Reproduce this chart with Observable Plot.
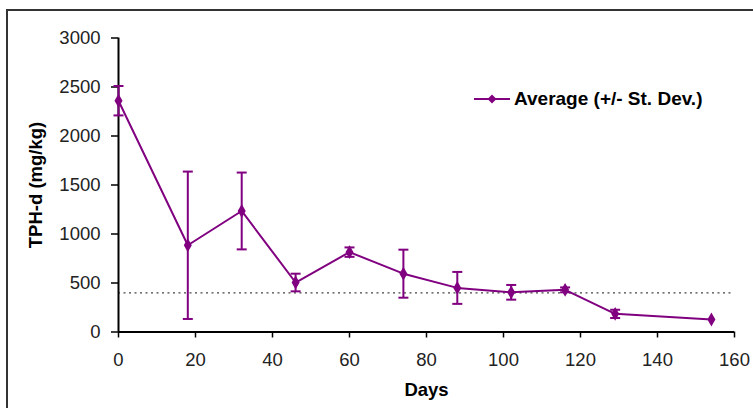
<!DOCTYPE html>
<html>
<head>
<meta charset="utf-8">
<script src="https://cdn.jsdelivr.net/npm/d3@7"></script>
<script src="https://cdn.jsdelivr.net/npm/@observablehq/plot@0.6"></script>
<style>
  html, body { margin: 0; padding: 0; background: #fff; }
  #wrap { position: relative; width: 753px; height: 408px; overflow: hidden; font-family: "Liberation Sans", Arial, sans-serif; }
  #frame { position: absolute; left: 6px; top: 9px; width: 800px; height: 500px; border-top: 2px solid #333; border-left: 2px solid #333; }
  #legend { position: absolute; left: 474px; top: 88px; display: flex; align-items: center; font-weight: bold; font-size: 19px; color: #000; white-space: nowrap; }
  #chart { position: absolute; left: 0; top: 0; }
</style>
</head>
<body>
<div id="wrap">
  <div id="frame"></div>
  <div id="chart"></div>
  <div id="legend"></div>
</div>
<script>
const days = [0, 18, 32, 46, 60, 74, 88, 102, 116, 129, 154];
const average = [2360, 885, 1235, 505, 815, 595, 450, 405, 430, 185, 128];
const stDev = [150, 752, 392, 90, 48, 245, 163, 75, 25, 42, 0];
const threshold = [400];
const xTicks = [0, 20, 40, 60, 80, 100, 120, 140, 160];
const yTicks = [0, 500, 1000, 1500, 2000, 2500, 3000];
const seriesName = "Average (+/- St. Dev.)";
const xLabel = "Days";
const yLabel = "TPH-d (mg/kg)";

const purple = "#800080";
const data = days.map((d, i) => ({day: d, avg: average[i], lo: average[i] - stDev[i], hi: average[i] + stDev[i], sd: stDev[i]}));
const withErr = data.filter(d => d.sd > 0);

const capSymbol = {
  draw(context) {
    context.moveTo(-5, 0);
    context.lineTo(5, 0);
  }
};

const chart = Plot.plot({
  width: 753,
  height: 408,
  marginLeft: 118,
  marginRight: 19,
  marginTop: 37.5,
  marginBottom: 76.5,
  style: {fontFamily: "Liberation Sans, Arial, sans-serif", fontSize: "18.5px", background: "transparent", overflow: "visible"},
  x: {domain: [0, 160], ticks: xTicks},
  y: {domain: [0, 3000], ticks: yTicks},
  marks: [
    Plot.ruleY(threshold, {stroke: "#444", strokeWidth: 1.2, strokeDasharray: "2,3.5"}),
    Plot.axisX({ticks: xTicks, tickFormat: d => String(d), tickSize: 6, tickPadding: 15, stroke: "#000", strokeWidth: 1.5, fill: "#222", label: null, fontSize: 18.5}),
    Plot.axisY({ticks: yTicks, tickFormat: d => String(d), tickSize: 7, tickPadding: 11, stroke: "#000", strokeWidth: 1.5, fill: "#222", label: null, fontSize: 18.5}),
    Plot.ruleX([0], {stroke: "#000", strokeWidth: 2}),
    Plot.ruleY([0], {stroke: "#000", strokeWidth: 2}),
    Plot.ruleX(withErr, {x: "day", y1: "lo", y2: "hi", stroke: purple, strokeWidth: 2}),
    Plot.dot(withErr, {x: "day", y: "lo", symbol: capSymbol, stroke: purple, fill: "none", strokeWidth: 2}),
    Plot.dot(withErr, {x: "day", y: "hi", symbol: capSymbol, stroke: purple, fill: "none", strokeWidth: 2}),
    Plot.line(data, {x: "day", y: "avg", stroke: purple, strokeWidth: 2}),
    Plot.dot(data, {x: "day", y: "avg", symbol: "diamond", r: 4.2, fill: purple, stroke: "none"}),
    Plot.text([xLabel], {frameAnchor: "bottom", lineAnchor: "middle", dy: 58.5, text: d => d, fontWeight: "bold", fontSize: 18.5, fill: "#000"}),
    Plot.text([yLabel], {frameAnchor: "left", textAnchor: "middle", lineAnchor: "middle", dx: -82, rotate: -90, text: d => d, fontWeight: "bold", fontSize: 18.5, fill: "#000"})
  ]
});
document.getElementById("chart").appendChild(chart);

const legend = document.getElementById("legend");
legend.innerHTML = `<svg width="37" height="12" style="margin-right:3px"><line x1="0" y1="6" x2="36" y2="6" stroke="${purple}" stroke-width="2"/><path d="M18,1.5 L22.5,6 L18,10.5 L13.5,6 Z" fill="${purple}"/></svg><span>${seriesName}</span>`;
</script>
</body>
</html>
